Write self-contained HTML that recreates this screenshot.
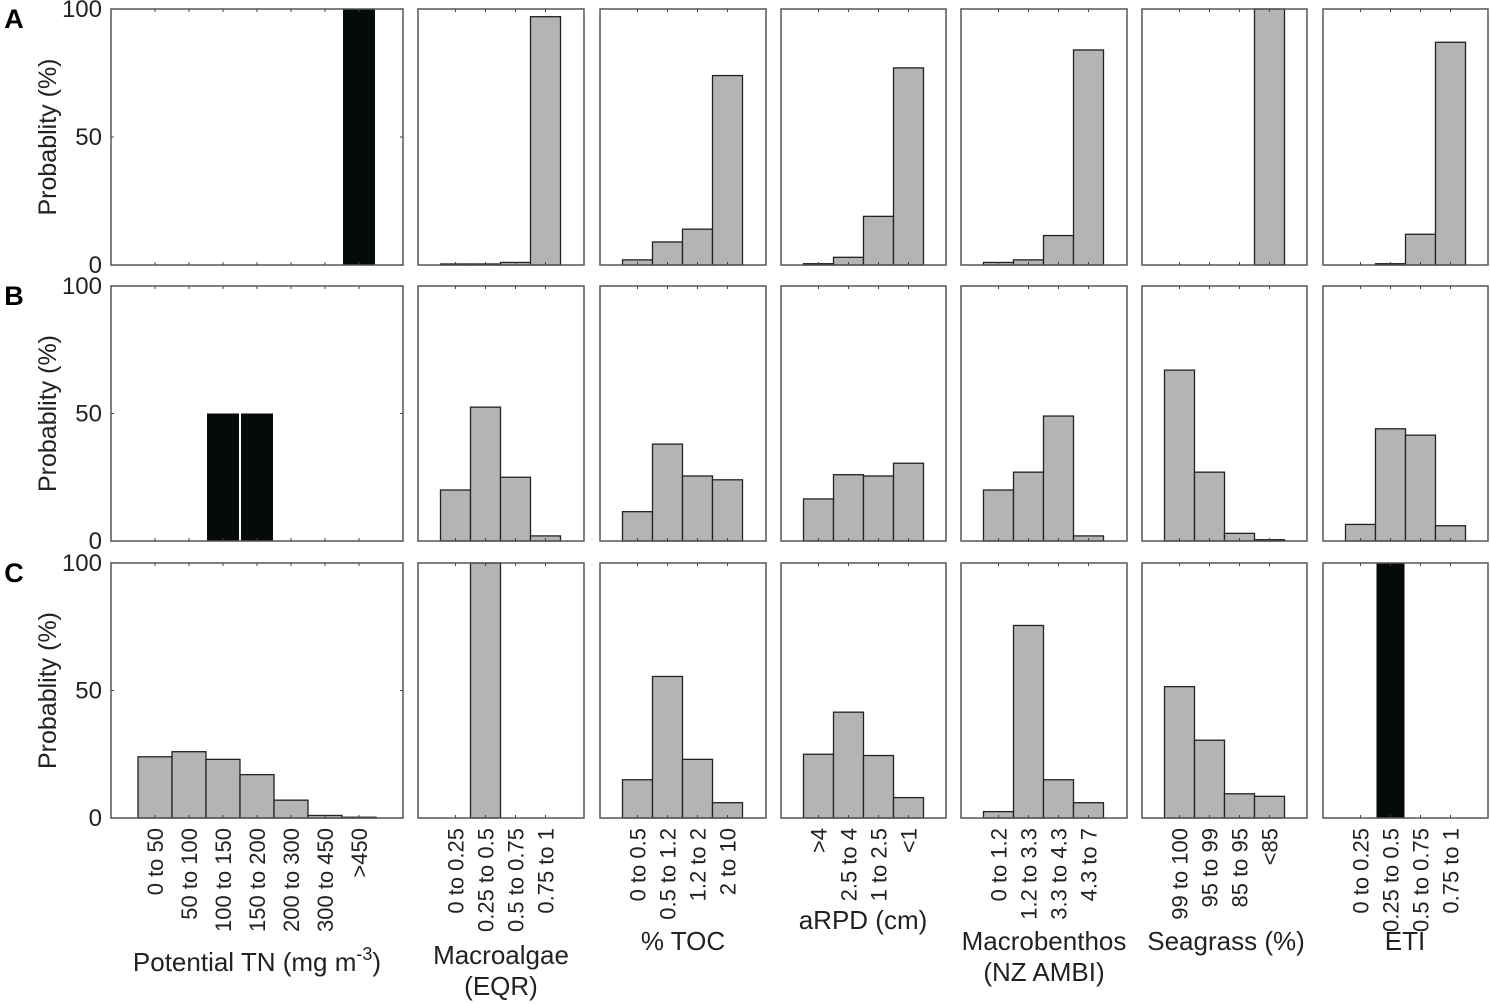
<!DOCTYPE html>
<html><head><meta charset="utf-8"><style>
body{margin:0;background:#fff;}
svg{display:block;font-family:"Liberation Sans",Arial,sans-serif;}
</style></head><body>
<svg id="fig" width="1490" height="1004" viewBox="0 0 1490 1004"></svg>
<script>
// ---- data ----
const catsTN = ["0 to 50","50 to 100","100 to 150","150 to 200","200 to 300","300 to 450",">450"];
const catsEQR = ["0 to 0.25","0.25 to 0.5","0.5 to 0.75","0.75 to 1"];
const catsTOC = ["0 to 0.5","0.5 to 1.2","1.2 to 2","2 to 10"];
const catsRPD = [">4","2.5 to 4","1 to 2.5","<1"];
const catsAMBI = ["0 to 1.2","1.2 to 3.3","3.3 to 4.3","4.3 to 7"];
const catsSea = ["99 to 100","95 to 99","85 to 95","<85"];
const catsETI = ["0 to 0.25","0.25 to 0.5","0.5 to 0.75","0.75 to 1"];
const yTicks = [0,50,100];
const rowLabels = ["A","B","C"];
// values per row, per panel
const rowA_TN = [0,0,0,0,0,0,100];
const rowA_EQR = [0.4,0.4,1,97];
const rowA_TOC = [2,9,14,74];
const rowA_RPD = [0.5,3,19,77];
const rowA_AMBI = [1,2,11.5,84];
const rowA_Sea = [0,0,0,100];
const rowA_ETI = [0,0.5,12,87];
const rowB_TN = [0,0,50,50,0,0,0];
const rowB_EQR = [20,52.5,25,2];
const rowB_TOC = [11.5,38,25.5,24];
const rowB_RPD = [16.5,26,25.5,30.5];
const rowB_AMBI = [20,27,49,2];
const rowB_Sea = [67,27,3,0.5];
const rowB_ETI = [6.5,44,41.5,6];
const rowC_TN = [24,26,23,17,7,1,0.3];
const rowC_EQR = [0,100,0,0];
const rowC_TOC = [15,55.5,23,6];
const rowC_RPD = [25,41.5,24.5,8];
const rowC_AMBI = [2.5,75.5,15,6];
const rowC_Sea = [51.5,30.5,9.5,8.5];
const rowC_ETI = [0,100,0,0];
// evidence (black) bars: [row, panel]
const evidence = [[0,0],[1,0],[2,6]];

const NS="http://www.w3.org/2000/svg";
const svg=document.getElementById('fig');
function mk(t,a,p){const e=document.createElementNS(NS,t);for(const k in a)e.setAttribute(k,a[k]);(p||svg).appendChild(e);return e;}

const panels=[
 {l:111,r:403,cats:catsTN,key:"tn"},
 {l:418,r:584,cats:catsEQR,key:"eqr"},
 {l:600,r:766,cats:catsTOC,key:"toc"},
 {l:781,r:946,cats:catsRPD,key:"rpd"},
 {l:961,r:1127,cats:catsAMBI,key:"ambi"},
 {l:1142,r:1307,cats:catsSea,key:"seagrass"},
 {l:1323,r:1488,cats:catsETI,key:"eti"}];
const rows=[{t:9,b:265,v:[rowA_TN,rowA_EQR,rowA_TOC,rowA_RPD,rowA_AMBI,rowA_Sea,rowA_ETI]},
 {t:286,b:541,v:[rowB_TN,rowB_EQR,rowB_TOC,rowB_RPD,rowB_AMBI,rowB_Sea,rowB_ETI]},
 {t:563,b:818,v:[rowC_TN,rowC_EQR,rowC_TOC,rowC_RPD,rowC_AMBI,rowC_Sea,rowC_ETI]}];

rows.forEach((row,ri)=>{
  const yS=v=>row.b-(v/100)*(row.b-row.t);
  const rl=mk('text',{x:14,y:row.t+19,'font-size':27,'font-weight':'bold','text-anchor':'middle'});
  rl.textContent=rowLabels[ri];
  
  
  const yl=mk('text',{transform:`translate(56,${(row.t+row.b)/2}) rotate(-90)`,'font-size':25,'text-anchor':'middle',fill:'#222'});
  yl.textContent="Probablity (%)";
  
  
  yTicks.forEach(v=>{
    const t=mk('text',{x:102,y:yS(v)+8,'font-size':24,'text-anchor':'end',fill:'#222'});
    t.textContent=v;
    
    
  });
  panels.forEach((p,pi)=>{
    const g=mk('g',{});
    
    
    const n=p.cats.length;
    const step=n===7?34:30, off=n===7?44:37.5;
    const xS=i=>p.l+off+i*step;
    const isEv=evidence.some(e=>e[0]===ri&&e[1]===pi);
    row.v[pi].forEach((v,i)=>{
      if(v<=0)return;
      const y=yS(v);
      const b=mk('rect',{x:xS(i)-step/2+(isEv?1:0),y:y,width:step-(isEv?2:0),height:row.b-y,
        fill:isEv?'#060a0a':'#b4b4b4',stroke:isEv?'none':'#222','stroke-width':1.3},g);
      
      
    });
    mk('rect',{x:p.l,y:row.t,width:p.r-p.l,height:row.b-row.t,fill:'none',stroke:'#555','stroke-width':1.5},g);
    p.cats.forEach((c,i)=>{
      mk('line',{x1:xS(i),x2:xS(i),y1:row.b,y2:row.b-3,stroke:'#444'},g);
      mk('line',{x1:xS(i),x2:xS(i),y1:row.t,y2:row.t+3,stroke:'#444'},g);
    });
    if(pi===0) yTicks.forEach(v=>{
      mk('line',{x1:p.l,x2:p.l+3,y1:yS(v),y2:yS(v),stroke:'#444'},g);
      mk('line',{x1:p.r,x2:p.r-3,y1:yS(v),y2:yS(v),stroke:'#444'},g);
    });
    if(ri===2){
      p.cats.forEach((c,i)=>{
        const t=mk('text',{transform:`translate(${xS(i)+8},828) rotate(-90)`,'font-size':22,'text-anchor':'end',fill:'#222'});
        t.textContent=c;
        
        
      });
    }
  });
});
// x-axis titles
const titles=[
 {x:257,y:971,lines:null},
 {x:501,y:964,lines:["Macroalgae","(EQR)"]},
 {x:683,y:950,lines:["% TOC"]},
 {x:863,y:929,lines:["aRPD (cm)"]},
 {x:1044,y:950,lines:["Macrobenthos","(NZ AMBI)"]},
 {x:1226,y:950,lines:["Seagrass (%)"]},
 {x:1405,y:950,lines:["ETI"]}];
titles.forEach((t,i)=>{
  if(i===0){
    const e=mk('text',{x:t.x,y:t.y,'font-size':26,'text-anchor':'middle',fill:'#222'});
    e.innerHTML='Potential TN (mg m<tspan dy="-11" font-size="18">-3</tspan><tspan dy="11">)</tspan>';
    
    
    return;
  }
  t.lines.forEach((l,j)=>{
    const e=mk('text',{x:t.x,y:t.y+j*31,'font-size':26,'text-anchor':'middle',fill:'#222'});
    e.textContent=l;
    
    
  });
});
</script>
</body></html>
